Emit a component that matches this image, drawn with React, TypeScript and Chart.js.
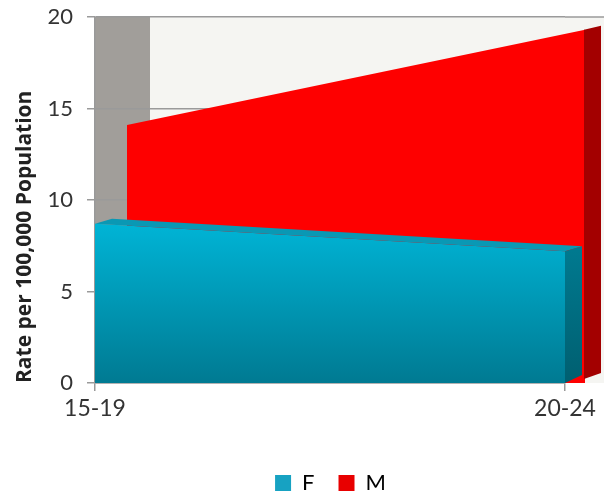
import React, { useEffect, useRef } from "react";
import { Chart, registerables } from "chart.js";

const categories = ["15-19", "20-24"];
const femaleRates = [8.7, 7.2];
const maleRates = [14.1, 19.3];
const seriesNames = ["F", "M"];
const yTickMin = 0;
const yTickMax = 20;
const yTickStep = 5;

const DEPTH_L = 32;
const DEPTH_R = 20;

const depthPlugin = {
  id: "depth3d",
  afterLayout(chart: any) {
    const l = chart.legend;
    if (l && chart.config.options.plugins?.legend?.display !== false) {
      l.left += 48;
      l.right += 48;
      l.top += 9;
      l.bottom += 9;
    }
  },
  beforeDraw(chart: any) {
    const { ctx, chartArea: a } = chart;
    ctx.save();
    ctx.fillStyle = "#f5f5f2";
    ctx.fillRect(a.left + 55, a.top, a.right - a.left - 55 + 39, a.bottom - a.top);
    ctx.fillStyle = "#a19e9a";
    ctx.fillRect(a.left, a.top, 55, a.bottom - a.top);
    ctx.restore();
  },
  afterDraw(chart: any) {
    const { ctx, chartArea: a } = chart;
    const y20 = chart.scales.y.getPixelForValue(yTickMax);
    ctx.save();
    ctx.strokeStyle = "#9a9a9a";
    ctx.lineWidth = 1.5;
    ctx.beginPath();
    ctx.moveTo(a.right, y20);
    ctx.lineTo(chart.width, y20);
    ctx.stroke();
    ctx.restore();
  },
  beforeDatasetDraw(chart: any, args: any) {
    if (args.index !== 1) return;
    const { ctx, chartArea: a } = chart;
    const w = a.right - a.left;
    const sx = (w + DEPTH_R - DEPTH_L) / w;
    ctx.save();
    ctx.translate(a.left + DEPTH_L, 0);
    ctx.scale(sx, 1);
    ctx.translate(-a.left, 0);
  },
  afterDatasetDraw(chart: any, args: any) {
    const { ctx, chartArea: a } = chart;
    const pts = args.meta.data;
    const base = chart.scales.y.getPixelForValue(0);
    if (args.index === 1) {
      ctx.restore();
      const last = pts[pts.length - 1];
      const x = a.right + DEPTH_R;
      ctx.save();
      ctx.fillStyle = "#a30000";
      ctx.beginPath();
      ctx.moveTo(x - 1, last.y);
      ctx.lineTo(x + 16, last.y - 4);
      ctx.lineTo(x + 16, base - 10);
      ctx.lineTo(x - 1, base - 4);
      ctx.closePath();
      ctx.fill();
      ctx.restore();
    } else {
      const p0 = pts[0];
      const p1 = pts[pts.length - 1];
      const d = 17;
      const dy = 5;
      ctx.save();
      ctx.fillStyle = "#0a98b4";
      ctx.beginPath();
      ctx.moveTo(p0.x, p0.y);
      ctx.lineTo(p0.x + d, p0.y - dy);
      ctx.lineTo(p1.x + d, p1.y - dy);
      ctx.lineTo(p1.x, p1.y);
      ctx.closePath();
      ctx.fill();
      const g = ctx.createLinearGradient(0, p1.y, 0, base);
      g.addColorStop(0, "#00798f");
      g.addColorStop(1, "#005f70");
      ctx.fillStyle = g;
      ctx.beginPath();
      ctx.moveTo(p1.x, p1.y);
      ctx.lineTo(p1.x + d, p1.y - dy);
      ctx.lineTo(p1.x + d, base - dy - 3);
      ctx.lineTo(p1.x, base);
      ctx.closePath();
      ctx.fill();
      ctx.restore();
    }
  },
};

// register first so its per-dataset hooks run before the filler plugin
Chart.register(depthPlugin as any);
Chart.register(...registerables);

export default function App() {
  const ref = useRef<HTMLCanvasElement>(null);
  useEffect(() => {
    document.body.style.margin = "0";
    const canvas = ref.current;
    if (!canvas) return;
    const chart = new Chart(canvas, {
      type: "line",
      data: {
        labels: categories,
        datasets: [
          {
            label: seriesNames[0],
            data: femaleRates,
            fill: "origin",
            borderWidth: 0,
            borderColor: "rgba(0,0,0,0)",
            pointRadius: 0,
            tension: 0,
            clip: false as any,
            backgroundColor: (c: any) => {
              const a = c.chart.chartArea;
              if (!a) return "#00a4c4";
              const y = c.chart.scales.y;
              const g = c.chart.ctx.createLinearGradient(0, y.getPixelForValue(9), 0, a.bottom);
              g.addColorStop(0, "#00b6d8");
              g.addColorStop(1, "#007a92");
              return g;
            },
          },
          {
            label: seriesNames[1],
            data: maleRates,
            fill: "origin",
            borderWidth: 0,
            borderColor: "rgba(0,0,0,0)",
            pointRadius: 0,
            tension: 0,
            clip: false as any,
            backgroundColor: "#fe0000",
          },
        ],
      },
      options: {
        animation: false,
        responsive: false,
        layout: { padding: { top: 17, right: 39, left: 0, bottom: 0 } },
        plugins: {
          tooltip: { enabled: false },
          legend: {
            position: "bottom",
            labels: {
              boxWidth: 16,
              boxHeight: 16,
              padding: 24,
              color: "#333",
              font: { family: "Lato", size: 22 },
              generateLabels: () => [
                { text: seriesNames[0], fillStyle: "#17a2c2", strokeStyle: "#17a2c2", lineWidth: 0, datasetIndex: 0, hidden: false },
                { text: seriesNames[1], fillStyle: "#e80000", strokeStyle: "#e80000", lineWidth: 0, datasetIndex: 1, hidden: false },
              ],
            },
          },
        },
        scales: {
          x: {
            offset: false,
            grid: { drawOnChartArea: false, tickLength: 8, color: "#999", lineWidth: 1.5 },
            border: { color: "#999", width: 1.5 },
            ticks: { color: "#333", font: { family: "Lato", size: 23 }, padding: 4, maxRotation: 0 },
            afterFit: (s: any) => {
              s.height = 56;
            },
          },
          y: {
            min: yTickMin,
            max: yTickMax,
            ticks: { stepSize: yTickStep, color: "#333", font: { family: "Lato", size: 22 }, padding: 14 },
            grid: { color: "#9a9a9a", lineWidth: 1.5, tickLength: 8 },
            border: { color: "#999", width: 1.5 },
            title: {
              display: true,
              text: "Rate per 100,000 Population",
              align: "start",
              color: "#222",
              font: { family: "Open Sans", size: 21, weight: "bold" },
              padding: { top: 12, bottom: 0 },
            },
            afterFit: (s: any) => {
              s.width = 95;
              s.paddingTop = 10;
              s.paddingBottom = 10;
            },
          },
        },
      },
    });
    return () => chart.destroy();
  }, []);
  return (
    <div style={{ width: 604, height: 495 }}>
      <canvas ref={ref} width={604} height={495} />
    </div>
  );
}
